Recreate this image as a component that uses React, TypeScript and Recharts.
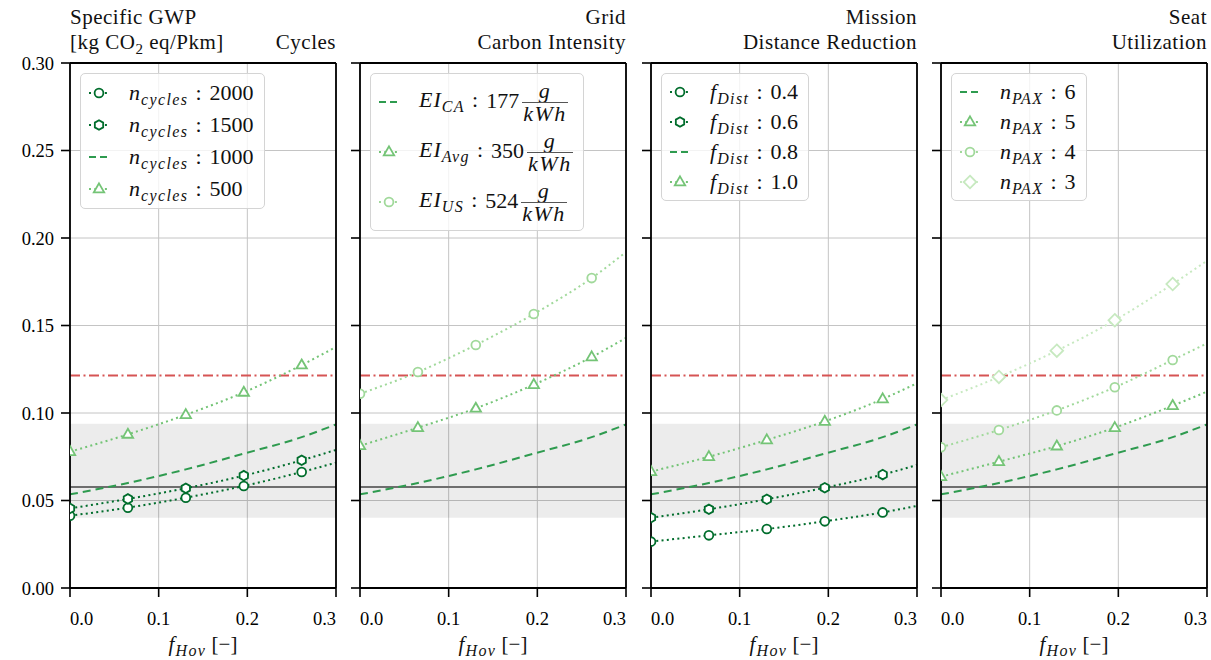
import type { ReactNode } from 'react'
import {
  LineChart,
  Line,
  XAxis,
  YAxis,
  CartesianGrid,
  ReferenceLine,
  ReferenceArea,
} from 'recharts'

// x positions of the curves (markers sit on the first five)
const fHov = [0, 0.0653, 0.1306, 0.196, 0.2613, 0.3]
const markerCount = 5
const xTicks = [0, 0.1, 0.2, 0.3]
const yTicks = [0, 0.05, 0.1, 0.15, 0.2, 0.25, 0.3]

// shared baseline (n_cycles 1000 / EI_CA / f_Dist 0.8 / n_PAX 6)
const baseline = [0.0535, 0.06, 0.0678, 0.0768, 0.0862, 0.0935]

const cycles2000 = [0.0413, 0.0459, 0.0516, 0.0583, 0.0663, 0.0716]
const cycles1500 = [0.0455, 0.0509, 0.057, 0.0642, 0.073, 0.0789]
const cycles500 = [0.0779, 0.0878, 0.099, 0.1118, 0.1274, 0.1377]

const eiAvg = [0.0813, 0.0916, 0.1027, 0.1162, 0.132, 0.1429]
const eiUs = [0.111, 0.1234, 0.1389, 0.1566, 0.1771, 0.192]

const dist04 = [0.0265, 0.0301, 0.0337, 0.0381, 0.0432, 0.0469]
const dist06 = [0.0402, 0.045, 0.0507, 0.0573, 0.0648, 0.0703]
const dist10 = [0.0665, 0.075, 0.0846, 0.0952, 0.108, 0.117]

const pax5 = [0.0636, 0.0722, 0.0811, 0.0916, 0.1042, 0.1122]
const pax4 = [0.0804, 0.0903, 0.1015, 0.1147, 0.1303, 0.1398]
const pax3 = [0.1074, 0.1206, 0.1356, 0.153, 0.1737, 0.187]

const limitRed = 0.1215
const refGray = 0.0577
const bandLow = 0.0402
const bandHigh = 0.0939

const SERIF = '"Liberation Serif", "DejaVu Serif", serif'
const TEXT_SIZE = 21
const LEGEND_SIZE = 22
const TICK_SIZE = 18.5
const G0 = '#006d2c'
const G1 = '#2e9b4f'
const G2 = '#74c476'
const G3 = '#a1d99b'
const G4 = '#c7e9c0'

type Marker = 'circle' | 'hexagon' | 'triangle' | 'diamond' | null

type Series = {
  key: string
  values: number[]
  color: string
  marker: Marker
  dashed: boolean
  label: ReactNode
}

type PanelDef = {
  title: ReactNode
  series: Series[]
  rowHeight: number
}

function markerShape(kind: Marker, cx: number, cy: number, color: string, key: string) {
  const common = { fill: '#fff', stroke: color, strokeWidth: 1.8 }
  if (kind === 'circle') return <circle key={key} cx={cx} cy={cy} r={4.4} {...common} />
  if (kind === 'hexagon') {
    const pts = [0, 1, 2, 3, 4, 5]
      .map((k) => {
        const a = ((-90 + 60 * k) * Math.PI) / 180
        return `${cx + 4.8 * Math.cos(a)},${cy + 4.8 * Math.sin(a)}`
      })
      .join(' ')
    return <polygon key={key} points={pts} {...common} />
  }
  if (kind === 'triangle')
    return <polygon key={key} points={`${cx},${cy - 5.6} ${cx + 5.2},${cy + 3.4} ${cx - 5.2},${cy + 3.4}`} {...common} />
  if (kind === 'diamond')
    return <polygon key={key} points={`${cx},${cy - 6.3} ${cx + 6.3},${cy} ${cx},${cy + 6.3} ${cx - 6.3},${cy}`} {...common} />
  return <g key={key} />
}

const Sub = ({ children }: { children: ReactNode }) => (
  <sub style={{ fontSize: 16, lineHeight: 0, fontStyle: 'italic', verticalAlign: -5, letterSpacing: 1.4 }}>{children}</sub>
)

const Var = ({ v, sub }: { v: string; sub: string }) => (
  <span>
    <i style={{ letterSpacing: 1 }}>{v}</i>
    <Sub>{sub}</Sub>
  </span>
)

const Colon = () => <span style={{ margin: '0 8px 0 7px' }}>:</span>

const Frac = () => (
  <span
    style={{
      display: 'inline-flex',
      flexDirection: 'column',
      alignItems: 'center',
      verticalAlign: 'middle',
      fontStyle: 'italic',
      lineHeight: '22px',
      marginLeft: 3,
      letterSpacing: 1.5,
    }}
  >
    <span>g</span>
    <span style={{ borderTop: '1.2px solid #555', padding: '0 1px' }}>kWh</span>
  </span>
)

const panels: PanelDef[] = [
  {
    title: (
      <div>
        <div>Specific GWP</div>
        <div style={{ display: 'flex', justifyContent: 'space-between' }}>
          <span>
            [kg CO<sub style={{ fontSize: 15, lineHeight: 0 }}>2</sub> eq/Pkm]
          </span>
          <span>Cycles</span>
        </div>
      </div>
    ),
    rowHeight: 32,
    series: [
      { key: 'c2000', values: cycles2000, color: G0, marker: 'circle', dashed: false, label: <><Var v="n" sub="cycles" /><Colon />2000</> },
      { key: 'c1500', values: cycles1500, color: G0, marker: 'hexagon', dashed: false, label: <><Var v="n" sub="cycles" /><Colon />1500</> },
      { key: 'c1000', values: baseline, color: G1, marker: null, dashed: true, label: <><Var v="n" sub="cycles" /><Colon />1000</> },
      { key: 'c500', values: cycles500, color: G2, marker: 'triangle', dashed: false, label: <><Var v="n" sub="cycles" /><Colon />500</> },
    ],
  },
  {
    title: (
      <div style={{ textAlign: 'right' }}>
        <div>Grid</div>
        <div>Carbon Intensity</div>
      </div>
    ),
    rowHeight: 50,
    series: [
      { key: 'ca', values: baseline, color: G1, marker: null, dashed: true, label: <><Var v="EI" sub="CA" /><Colon />177<Frac /></> },
      { key: 'avg', values: eiAvg, color: G2, marker: 'triangle', dashed: false, label: <><Var v="EI" sub="Avg" /><Colon />350<Frac /></> },
      { key: 'us', values: eiUs, color: G3, marker: 'circle', dashed: false, label: <><Var v="EI" sub="US" /><Colon />524<Frac /></> },
    ],
  },
  {
    title: (
      <div style={{ textAlign: 'right' }}>
        <div>Mission</div>
        <div>Distance Reduction</div>
      </div>
    ),
    rowHeight: 30,
    series: [
      { key: 'd04', values: dist04, color: G0, marker: 'circle', dashed: false, label: <><Var v="f" sub="Dist" /><Colon />0.4</> },
      { key: 'd06', values: dist06, color: G0, marker: 'hexagon', dashed: false, label: <><Var v="f" sub="Dist" /><Colon />0.6</> },
      { key: 'd08', values: baseline, color: G1, marker: null, dashed: true, label: <><Var v="f" sub="Dist" /><Colon />0.8</> },
      { key: 'd10', values: dist10, color: G2, marker: 'triangle', dashed: false, label: <><Var v="f" sub="Dist" /><Colon />1.0</> },
    ],
  },
  {
    title: (
      <div style={{ textAlign: 'right' }}>
        <div>Seat</div>
        <div>Utilization</div>
      </div>
    ),
    rowHeight: 30,
    series: [
      { key: 'p6', values: baseline, color: G1, marker: null, dashed: true, label: <><Var v="n" sub="PAX" /><Colon />6</> },
      { key: 'p5', values: pax5, color: G2, marker: 'triangle', dashed: false, label: <><Var v="n" sub="PAX" /><Colon />5</> },
      { key: 'p4', values: pax4, color: G3, marker: 'circle', dashed: false, label: <><Var v="n" sub="PAX" /><Colon />4</> },
      { key: 'p3', values: pax3, color: G4, marker: 'diamond', dashed: false, label: <><Var v="n" sub="PAX" /><Colon />3</> },
    ],
  },
]

const PLOT_LEFT = 70
const PLOT_W = 266
const PLOT_TOP = 63
const PLOT_BOTTOM = 588
const STEP = 290.33

function XTick(p: any) {
  const v: number = p.payload.value
  const anchor = v === xTicks[0] ? 'start' : v === xTicks[xTicks.length - 1] ? 'end' : 'middle'
  return (
    <text x={p.x} y={p.y} dy="0.71em" textAnchor={anchor} fill="#000" fontSize={TICK_SIZE} fontFamily={SERIF}>
      {v.toFixed(1)}
    </text>
  )
}

function LegendHandle({ s }: { s: Series }) {
  return (
    <svg width={20} height={16} style={{ flex: 'none', overflow: 'visible' }}>
      <line
        x1={0}
        x2={20}
        y1={8}
        y2={8}
        stroke={s.color}
        strokeWidth={2}
        strokeDasharray={s.dashed ? '7 4' : '2 3.3'}
      />
      {s.marker && markerShape(s.marker, 10, 8, s.color, 'lm')}
    </svg>
  )
}

function Panel({ def, index }: { def: PanelDef; index: number }) {
  const left = Math.round(index * STEP)
  const rows = fHov.map((x, i) => {
    const r: Record<string, number> = { x }
    def.series.forEach((s) => {
      r[s.key] = s.values[i]
    })
    return r
  })
  const tickStyle = { fill: '#000', fontSize: TICK_SIZE, fontFamily: SERIF }
  return (
    <div style={{ position: 'absolute', left, top: 0 }}>
      <LineChart
        width={PLOT_LEFT + PLOT_W + 24}
        height={660}
        data={rows}
        margin={{ top: PLOT_TOP, right: 24, bottom: 660 - PLOT_BOTTOM - 30, left: 0 }}
      >
        <CartesianGrid stroke="#c4c4c4" strokeWidth={1} />
        <ReferenceArea y1={bandLow} y2={bandHigh} fill="#000" fillOpacity={0.075} stroke="none" />
        <XAxis
          dataKey="x"
          type="number"
          domain={[0, 0.3]}
          ticks={xTicks}
          allowDataOverflow
          height={30}
          tickSize={9}
          tickMargin={15}
          tick={XTick}
          axisLine={{ stroke: '#000', strokeWidth: 1.8 }}
          tickLine={{ stroke: '#000', strokeWidth: 1.6 }}
        />
        <YAxis
          type="number"
          domain={[0, 0.3]}
          ticks={yTicks}
          allowDataOverflow
          width={PLOT_LEFT}
          tickSize={9}
          tickMargin={7}
          tick={tickStyle}
          tickFormatter={(v: number) => (index === 0 ? v.toFixed(2) : '')}
          axisLine={{ stroke: '#000', strokeWidth: 1.8 }}
          tickLine={{ stroke: '#000', strokeWidth: 1.6 }}
        />
        <ReferenceLine y={refGray} stroke="#6e6e6e" strokeWidth={2} />
        <ReferenceLine y={limitRed} stroke="#d65454" strokeWidth={2} strokeDasharray="10 3.5 2 3.5" />
        {def.series.map((s) => (
          <Line
            key={s.key}
            dataKey={s.key}
            type="monotone"
            stroke={s.color}
            strokeWidth={2}
            strokeDasharray={s.dashed ? '8 5' : '2 3.3'}
            dot={(p: any) =>
              p.index < markerCount
                ? markerShape(s.marker, p.cx, p.cy, s.color, `${s.key}-${p.index}`)
                : <g key={`${s.key}-${p.index}`} />
            }
            activeDot={false}
            isAnimationActive={false}
          />
        ))}
        <ReferenceLine y={0.3} stroke="#000" strokeWidth={1.8} />
        <ReferenceLine x={0.3} stroke="#000" strokeWidth={1.8} />
      </LineChart>

      {/* title */}
      <div
        style={{
          position: 'absolute',
          left: PLOT_LEFT,
          top: 5,
          width: PLOT_W,
          fontFamily: SERIF,
          fontSize: TEXT_SIZE,
          lineHeight: '25px',
          letterSpacing: 0.5,
          color: '#111',
        }}
      >
        {def.title}
      </div>

      {/* legend */}
      <div
        style={{
          position: 'absolute',
          left: PLOT_LEFT + 10,
          top: PLOT_TOP + 10,
          padding: '3px 10px 3px 8px',
          border: '1.5px solid #d4d4d4',
          borderRadius: 5,
          background: 'rgba(255,255,255,0.8)',
          fontFamily: SERIF,
          fontSize: LEGEND_SIZE,
          color: '#111',
        }}
      >
        {def.series.map((s) => (
          <div key={s.key} style={{ display: 'flex', alignItems: 'center', height: def.rowHeight, whiteSpace: 'nowrap' }}>
            <LegendHandle s={s} />
            <span style={{ marginLeft: 20 }}>{s.label}</span>
          </div>
        ))}
      </div>

      {/* x label */}
      <div
        style={{
          position: 'absolute',
          left: PLOT_LEFT,
          top: 632,
          width: PLOT_W,
          textAlign: 'center',
          fontFamily: SERIF,
          fontSize: TEXT_SIZE,
          lineHeight: '25px',
          color: '#111',
        }}
      >
        <Var v="f" sub="Hov" /> [−]
      </div>
    </div>
  )
}

export default function App() {
  return (
    <div style={{ position: 'absolute', left: 0, top: 0, width: 1211, height: 660, background: '#fff' }}>
      {panels.map((p, i) => (
        <Panel key={i} def={p} index={i} />
      ))}
    </div>
  )
}
